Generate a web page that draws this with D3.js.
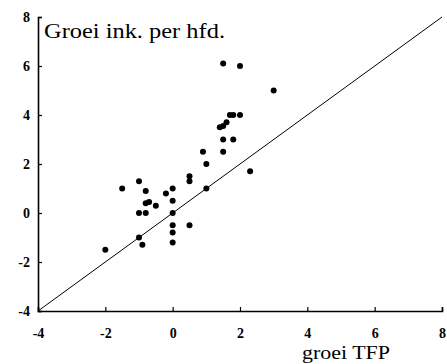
<!DOCTYPE html>
<html>
<head>
<meta charset="utf-8">
<script src="https://cdn.jsdelivr.net/npm/d3@7"></script>
<style>
  body { margin: 0; background: #fff; }
</style>
</head>
<body>
<div id="chart"></div>
<script>
const width = 447;
const height = 364;

// groei TFP (x) vs groei inkomen per hoofd (y)
const tfpGrowth = [1.5, 2.0, 3.0, 1.7, 1.8, 2.0, 1.6, 1.5, 1.4, 1.5, 1.8, 0.9, 1.5, 1.0, 2.3,
    0.5, 0.5, -1.0, -1.5, 0.0, 1.0, -0.8, -0.2, -0.7, -0.8, 0.0, -0.5, -1.0, -0.8, 0.0,
    0.0, 0.5, 0.0, 0.0, -1.0, -0.9, -2.0];
const incomeGrowth = [6.1, 6.0, 5.0, 4.0, 4.0, 4.0, 3.7, 3.55, 3.5, 3.0, 3.0, 2.5, 2.5, 2.0, 1.7,
    1.5, 1.3, 1.3, 1.0, 1.0, 1.0, 0.9, 0.8, 0.45, 0.4, 0.5, 0.3, 0.0, 0.0, 0.0,
    -0.5, -0.5, -0.8, -1.2, -1.0, -1.3, -1.5];
const ticks = [-4, -2, 0, 2, 4, 6, 8];
const diagonal = [-4, 8];

const data = tfpGrowth.map((d, i) => ({ x: d, y: incomeGrowth[i] }));

const x = d3.scaleLinear().domain([-4, 8]).range([38, 442]);
const y = d3.scaleLinear().domain([-4, 8]).range([311, 17]);

const svg = d3.select("#chart").append("svg")
    .attr("width", width)
    .attr("height", height);

// 45 degree line
svg.append("line")
    .attr("x1", x(diagonal[0])).attr("y1", y(diagonal[0]))
    .attr("x2", x(diagonal[1])).attr("y2", y(diagonal[1]))
    .attr("stroke", "#000")
    .attr("stroke-width", 1);

const xAxis = svg.append("g")
    .attr("transform", `translate(0, ${y(-4)})`)
    .call(d3.axisBottom(x).tickValues(ticks).tickSize(-4).tickPadding(17).tickFormat(d => String(d)));

const yAxis = svg.append("g")
    .attr("transform", `translate(${x(-4)}, 0)`)
    .call(d3.axisLeft(y).tickValues(ticks).tickSize(-4).tickPadding(8).tickFormat(d => String(d)));

[xAxis, yAxis].forEach(g => {
    g.select(".domain").attr("stroke-width", 1.6);
    g.selectAll(".tick line").attr("stroke-width", 1.2);
    g.selectAll(".tick text")
        .attr("fill", "#000")
        .style("font-family", "Liberation Serif")
        .style("font-weight", "700")
        .style("font-size", "14px");
});

svg.append("g")
    .selectAll("circle")
    .data(data)
    .join("circle")
    .attr("cx", d => x(d.x))
    .attr("cy", d => y(d.y))
    .attr("r", 3)
    .attr("fill", "#000");

svg.append("text")
    .attr("x", 44)
    .attr("y", 38)
    .style("font-family", "Liberation Serif")
    .style("font-size", "21px")
    .attr("textLength", 181)
    .attr("lengthAdjust", "spacingAndGlyphs")
    .text("Groei ink. per hfd.");

svg.append("text")
    .attr("x", 302)
    .attr("y", 359)
    .style("font-family", "Liberation Serif")
    .style("font-size", "19px")
    .attr("textLength", 88)
    .attr("lengthAdjust", "spacingAndGlyphs")
    .text("groei TFP");
</script>
</body>
</html>
